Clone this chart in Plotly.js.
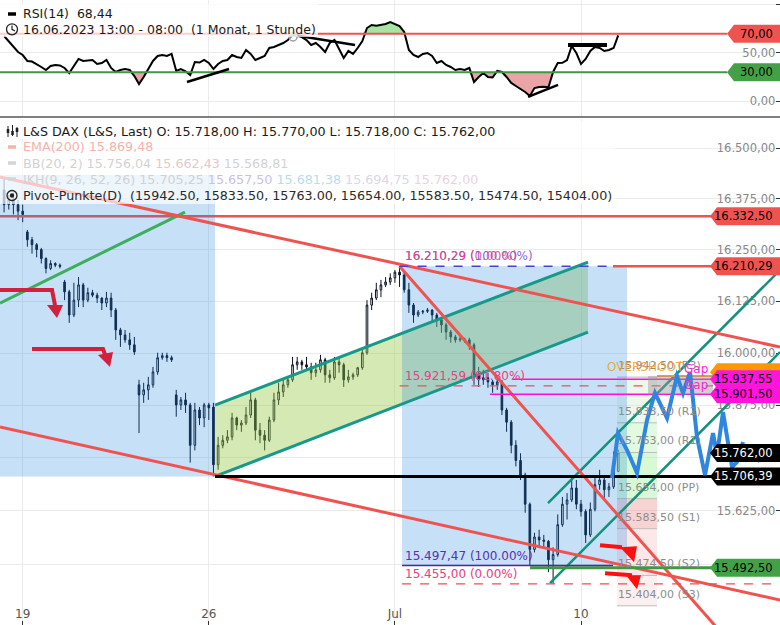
<!DOCTYPE html>
<html>
<head>
<meta charset="utf-8">
<script src="https://cdn.plot.ly/plotly-3.0.1.min.js"></script>
<style>
html,body{margin:0;padding:0;background:#ffffff;}
#chart{width:780px;height:625px;}
</style>
</head>
<body>
<div id="chart"></div>
<script>
// ---------------- data (hourly-ish bars, L&S DAX) ----------------
const open = [16397,16361,16373,16361,16345,16294,16275,16263,16251,16229,
 16205,16217,16213,16172,16148,16092,16128,16165,16128,16146,
 16140,16133,16121,16133,16104,16056,16044,16032,16020,15924,
 15900,15912,15924,15955,15989,15994,15989,15900,15876,15888,
 15876,15780,15864,15845,15876,15871,15734,15780,15792,15800,
 15845,15828,15833,15852,15888,15816,15804,15792,15840,15888,
 15907,15924,15936,15972,15979,15972,15967,15953,15960,15984,
 15948,15941,15979,15972,15936,15943,15948,15965,16001,16116,
 16133,16153,16165,16172,16182,16196,16189,16153,16116,16092,
 16099,16101,16104,16092,16080,16068,16051,16039,16032,16034,
 16032,16020,15948,15936,15941,15931,15924,15931,15864,15835,
 15780,15744,15710,15641,15535,15564,15557,15554,15511,15523,
 15593,15641,15651,15679,15641,15624,15569,15629,15687,15698,
 15675,15682,15718];
const high = [16426,16385,16390,16373,16361,16299,16282,16267,16255,16232,
 16225,16220,16217,16177,16153,16170,16184,16170,16158,16153,
 16146,16135,16148,16146,16109,16061,16056,16049,16039,15936,
 15929,15943,15967,16001,16001,16001,15994,15912,15895,15905,
 15881,15881,15871,15881,15881,15881,15800,15804,15816,15857,
 15848,15840,15871,15905,15893,15833,15816,15848,15905,15929,
 15936,15943,15991,15991,15984,15991,15977,15977,15996,15989,
 15960,15991,15991,15977,15960,15953,15967,16008,16128,16146,
 16170,16177,16184,16193,16201,16210.29,16198,16170,16121,16104,
 16104,16109,16106,16097,16085,16073,16056,16044,16039,16037,
 16037,16025,15967,15960,15953,15936,15943,15936,15869,15840,
 15792,15761,15715,15645,15574,15581,15569,15557,15540,15617,
 15658,15667,15703,15698,15651,15629,15645,15706,15722,15703,
 15691,15765,15770];
const low = [16342,16349,16337,16323,16318,16258,16241,16232,16217,16193,
 16201,16208,16205,16128,16073,16087,16111,16111,16123,16135,
 16121,16104,16111,16087,16032,16015,16025,16008,15996,15809,
 15881,15888,15917,15948,15984,15979,15979,15848,15864,15857,
 15739,15768,15828,15823,15840,15706.39,15722,15773,15785,15792,
 15816,15812,15828,15845,15792,15785,15768,15788,15835,15876,
 15895,15917,15931,15960,15960,15960,15936,15943,15953,15929,
 15929,15936,15953,15919,15929,15936,15943,15960,15996,16104,
 16128,16135,16160,16165,16170,16160,16146,16097,16073,16087,
 16094,16097,16073,16063,16049,16032,16025,16025,16027,16025,
 16008,15924,15919,15924,15917,15905,15912,15852,15812,15761,
 15730,15698,15621,15497.47,15528,15542,15540,15482,15455,15518,
 15588,15605,15646,15629,15612,15550,15564,15624,15675,15651,
 15658,15677,15718];
const close = [16361,16373,16361,16345,16337,16275,16263,16251,16229,16205,
 16217,16213,16210,16148,16092,16128,16165,16128,16146,16140,
 16133,16121,16133,16104,16056,16044,16032,16020,16003,15900,
 15912,15924,15955,15989,15994,15989,15984,15876,15888,15876,
 15780,15864,15845,15876,15869,15734,15780,15792,15800,15845,
 15828,15833,15852,15888,15816,15804,15792,15840,15888,15907,
 15924,15936,15972,15979,15972,15967,15953,15960,15984,15948,
 15941,15979,15972,15936,15943,15948,15965,16001,16116,16133,
 16153,16165,16172,16182,16196,16189,16153,16116,16092,16099,
 16101,16104,16092,16080,16068,16051,16039,16032,16034,16032,
 16020,15948,15936,15941,15931,15924,15931,15864,15835,15780,
 15744,15710,15641,15535,15564,15557,15554,15511,15523,15593,
 15641,15651,15679,15641,15624,15569,15629,15687,15698,15675,
 15682,15718,15762];
const rsi = [67.7,62.5,57.3,51.0,47.9,41.7,41.1,38.5,35.4,32.3,
 36.5,37.5,37.0,34.4,29.0,36.5,43.8,41.7,42.0,42.7,
 38.5,39.6,42.7,34.4,30.2,32.3,33.3,32.3,26.0,17.7,
 25.0,33.3,41.7,46.9,47.9,46.9,49.0,31.3,33.3,31.0,
 27.0,40.6,40.0,42.7,39.6,33.3,38.5,41.7,42.7,47.9,
 45.8,44.8,53.1,49.0,42.7,44.8,46.9,55.2,56.3,58.3,
 60.4,63.5,68.8,69.5,66.7,63.5,58.3,60.4,56.3,51.0,
 60.4,63.5,54.2,44.8,52.1,49.0,55.2,62.5,76.0,79.2,
 78.5,79.0,80.2,82.3,80.2,78.1,71.9,53.1,47.9,45.8,
 49.0,50.0,46.9,39.6,41.7,37.5,35.4,32.3,33.3,32.3,
 34.4,19.8,25.0,29.2,25.0,24.5,31.3,30.2,25.0,18.8,
 15.6,12.5,9.4,5.2,13.5,14.6,14.9,14.2,30.2,39.6,
 39.8,42.7,57.3,50.0,38.5,43.8,52.1,56.3,55.2,52.1,
 53.1,55.2,68.44];

const dayTickPos = [4, 44, 84, 124];
const dayTickText = ['19', '26', 'Jul', '10'];
const priceTicks = [15375, 15500, 15625, 15750, 15875, 16000, 16125, 16250, 16375, 16500];
const rsiTicks = [0, 50, 100];
const rsiBands = [70, 30];
const pivotValues = [15942.5, 15833.5, 15763.0, 15654.0, 15583.5, 15474.5, 15404.0];
const pivotNames = ['R3', 'R2', 'R1', 'PP', 'S1', 'S2', 'S3'];
const emaValue = [15869.48];
const bbValues = [15756.04, 15662.43, 15568.81];
const ikhValues = [15705.25, 15657.50, 15681.38, 15694.75, 15762.00];
const tagPrices = [16332.5, 16210.29, 15937.55, 15901.5, 15762.0, 15706.39, 15492.5];
const fibLevels = [16210.29, 15921.59, 15497.47, 15455.0];
const fibPercents = ['0.00%', '61.80%', '100.00%', '0.00%'];

// ---------------- drawings (bar index, price) ----------------
const blueBoxes = [[-1, 45.33, 15706.39, 16434], [85.53, 133.89, 15497.47, 16210.29]];
const channelX = [45.33, 125.5];
const channelLow = [15706.39, 16050.8];
const channelHigh = [15875.7, 16220.5];
const redTrends = [[-0.88, 16429.0, 166.77, 16014.7], [-0.88, 15823.3, 166.77, 15417.3], [85.0, 16210.29, 158.17, 15292.6]];
const greenTrend = [-0.88, 16120.9, 38.88, 16342.8];
const tealTrends = [[116.91, 15643.6, 166.77, 16201.0], [117.34, 15456.7, 166.77, 16002.6]];
const projX = [130.66, 131.95, 133.89, 136.04, 138.19, 139.9, 142.49, 144.63, 145.92, 147.43, 148.93, 150.65, 152.37, 153.23, 154.52, 156.46, 157.53, 158.82];
const projY = [15702.5, 15809.0, 15768.7, 15714.3, 15840.0, 15904.4, 15844.7, 15945.0, 15904.4, 15954.6, 15799.5, 15709.6, 15809.0, 15756.9, 15859.0, 15728.5, 15740.3, 15787.7];
const rsiTrends = [[39.31, 19.8, 48.34, 33.3, 2.5], [62.1, 68.75, 75.43, 58.3, 2.5], [112.61, 4.2, 119.06, 16.7, 2.5], [121.21, 58.3, 129.59, 58.3, 4]];

// ---------------- helpers ----------------
const de = (v) => { const s = v.toFixed(2).split('.'); return s[0].replace(/\B(?=(\d{3})+(?!\d))/g, '.') + ',' + s[1]; };
const L10 = Math.log10;
const px = (x) => x / 780;
const py = (y) => (625 - y) / 625;
const NB = '\u00a0';
const bars = open.map((v, k) => k);
const n = close.length - 1;

// ---------------- traces ----------------
const traces = [
  {type: 'candlestick', x: bars, open: open, high: high, low: low, close: close, xaxis: 'x', yaxis: 'y',
   increasing: {line: {color: '#0c1424', width: 1}, fillcolor: '#ffffff'},
   decreasing: {line: {color: '#0c1424', width: 1}, fillcolor: '#0c1424'},
   whiskerwidth: 0, hoverinfo: 'skip'},
  {type: 'scatter', x: bars, y: rsi.map(() => rsiBands[0]), xaxis: 'x', yaxis: 'y2', mode: 'lines', line: {width: 0}, hoverinfo: 'skip'},
  {type: 'scatter', x: bars, y: rsi.map(v => Math.max(v, rsiBands[0])), xaxis: 'x', yaxis: 'y2', mode: 'lines', line: {width: 0}, fill: 'tonexty', fillcolor: '#a7e3a1', hoverinfo: 'skip'},
  {type: 'scatter', x: bars, y: rsi.map(() => rsiBands[1]), xaxis: 'x', yaxis: 'y2', mode: 'lines', line: {width: 0}, hoverinfo: 'skip'},
  {type: 'scatter', x: bars, y: rsi.map(v => Math.min(v, rsiBands[1])), xaxis: 'x', yaxis: 'y2', mode: 'lines', line: {width: 0}, fill: 'tonexty', fillcolor: '#e9a5a5', hoverinfo: 'skip'},
  {type: 'scatter', x: bars, y: rsi, xaxis: 'x', yaxis: 'y2', mode: 'lines', line: {color: '#000000', width: 2}, hoverinfo: 'skip'}
];

// ---------------- shapes ----------------
const shapes = [];
const hline = (x0, x1, y, color, width, dash, yref) => shapes.push({type: 'line', xref: 'x', yref: yref || 'y', x0: x0, x1: x1, y0: y, y1: y, line: {color: color, width: width, dash: dash || 'solid'}, layer: 'above'});
const seg = (x0, y0, x1, y1, color, width, yref) => shapes.push({type: 'line', xref: 'x', yref: yref || 'y', x0: x0, x1: x1, y0: y0, y1: y1, line: {color: color, width: width}, layer: 'above'});
const poly = (pts, color, width, fill) => shapes.push({type: 'path', xref: 'x', yref: 'y', layer: 'above',
  path: pts.map((p, k) => (k ? 'L ' : 'M ') + p[0] + ',' + p[1]).join(' ') + (fill ? ' Z' : ''),
  line: {color: color, width: fill ? 0 : width}, fillcolor: fill ? color : 'rgba(0,0,0,0)'});

// pivot zones
const zoneCols = ['rgba(205,232,200,0.35)', 'rgba(190,245,185,0.45)', 'rgba(175,245,170,0.5)', 'rgba(235,150,150,0.42)', 'rgba(245,185,185,0.33)', 'rgba(245,195,195,0.26)'];
for (let k = 0; k < pivotValues.length - 1; k++) {
  shapes.push({type: 'rect', xref: 'x', yref: 'y', x0: 131.74, x1: 140.34, y0: pivotValues[k + 1], y1: pivotValues[k], fillcolor: zoneCols[k], line: {width: 0}, layer: 'above'});
}
pivotValues.forEach(v => hline(131.74, 140.34, v, '#bdbdbd', 1));

// horizontal red at 16332.5 (beneath blue box)
hline(-1, 152.37, tagPrices[0], '#ef5350', 2.5);

// green channel
shapes.push({type: 'path', xref: 'x', yref: 'y', layer: 'above',
  path: 'M ' + channelX[0] + ',' + channelLow[0] + ' L ' + channelX[1] + ',' + channelLow[1] + ' L ' + channelX[1] + ',' + channelHigh[1] + ' L ' + channelX[0] + ',' + channelHigh[0] + ' Z',
  fillcolor: 'rgba(150,200,70,0.4)', line: {width: 0}});

// blue boxes
blueBoxes.forEach(b => shapes.push({type: 'rect', xref: 'x', yref: 'y', x0: b[0], x1: b[1], y0: b[2], y1: b[3], fillcolor: 'rgba(27,131,227,0.25)', line: {width: 0}, layer: 'above'}));

// channel lines
seg(channelX[0], channelHigh[0], channelX[1], channelHigh[1], '#17998a', 3);
seg(channelX[0], channelLow[0], channelX[1], channelLow[1], '#17998a', 3);
seg(greenTrend[0], greenTrend[1], greenTrend[2], greenTrend[3], '#3fae5c', 3);
tealTrends.forEach(t => seg(t[0], t[1], t[2], t[3], '#12927a', 2.5));
redTrends.forEach(t => seg(t[0], t[1], t[2], t[3], '#ef5350', 3));

// levels
hline(130.88, 152.37, tagPrices[1], '#ef5350', 2.5);
hline(45.33, 152.37, tagPrices[5], '#000000', 3);
hline(113.04, 152.37, tagPrices[6], '#3d9a40', 3);
hline(85.0, 130.88, fibLevels[0], '#4b3fd6', 1.5, 'dash');
hline(85.0, 152.37, fibLevels[1], '#e8505a', 1.2, 'dash');
hline(85.53, 130.88, fibLevels[2], '#4b2aa0', 1.5);
hline(85.53, 166.77, fibLevels[3], '#e8505a', 1.2, 'dash');
hline(109.17, 152.37, tagPrices[2], '#ff10d8', 1.5);
hline(104.44, 152.37, tagPrices[3], '#ff10d8', 1.5);
hline(140.34, 152.37, 15945, '#ff9a1a', 2);
shapes.push({type: 'rect', xref: 'x', yref: 'y', x0: 138.4, x1: 152.37, y0: tagPrices[3], y1: 15945, fillcolor: 'rgba(150,150,150,0.45)', line: {width: 0}, layer: 'above'});

// projection zigzag
poly(projX.map((x, k) => [x, projY[k]]), '#2e86de', 4, false);

// arrows
poly([[-0.88, 16152.4], [10.30, 16152.4], [10.94, 16116.0]], '#d3213d', 4, false);
poly([[9.22, 16116.0], [12.66, 16116.0], [11.37, 16084.6]], '#d3213d', 0, true);
poly([[6.0, 16009.9], [21.26, 16009.9], [21.90, 15990.6]], '#d3213d', 4, false);
poly([[20.18, 15995.4], [23.41, 16002.6], [22.76, 15966.6]], '#d3213d', 0, true);
poly([[128.08, 15544.9], [132.81, 15540.2]], '#ff1010', 4, false);
poly([[132.38, 15540.2], [136.04, 15542.6], [135.4, 15505.2]], '#ff1010', 0, true);
poly([[129.16, 15479.6], [134.96, 15475.0]], '#ff1010', 4, false);
poly([[133.67, 15475.0], [136.9, 15475.0], [136.04, 15442.4]], '#ff1010', 0, true);

// RSI panel lines
hline(-1, 155.38, rsiBands[0], '#ef5350', 2, 'solid', 'y2');
hline(-1, 155.38, rsiBands[1], '#3d9a40', 2, 'solid', 'y2');
rsiTrends.forEach(t => seg(t[0], t[1], t[2], t[3], '#000000', t[4], 'y2'));
shapes.push({type: 'circle', xref: 'x', yref: 'y2', xsizemode: 'pixel', ysizemode: 'pixel', xanchor: 62.1, yanchor: 66.7, x0: -4, x1: 4, y0: -4, y1: 4, line: {color: '#9e9e9e', width: 1.5}, fillcolor: 'rgba(255,255,255,0.5)', layer: 'above'});

// panel separator
shapes.push({type: 'line', xref: 'paper', yref: 'paper', x0: 0, x1: 1, y0: py(117), y1: py(117), line: {color: '#000', width: 1}});

// legend boxes
shapes.push({type: 'rect', xref: 'paper', yref: 'paper', x0: 0, x1: px(615), y0: py(204), y1: py(121), fillcolor: 'rgba(255,255,255,0.68)', line: {width: 0}, layer: 'above'});
shapes.push({type: 'rect', xref: 'paper', yref: 'paper', x0: 0, x1: px(318), y0: py(37), y1: py(4), fillcolor: 'rgba(255,255,255,0.72)', line: {width: 0}, layer: 'above'});

// legend icons
const dash = (y, color) => shapes.push({type: 'line', xref: 'paper', yref: 'paper', x0: px(8), x1: px(16), y0: py(y), y1: py(y), line: {color: color, width: 3.5}});
dash(14, '#000000'); dash(147, '#f6b3ab'); dash(163, '#d5d5d5'); dash(179, '#d5d5d5');
[[8, 126, 137, 129, 133], [12.5, 125, 136, 131, 135], [17, 127, 137, 128, 132]].forEach(c => {
  shapes.push({type: 'line', xref: 'paper', yref: 'paper', x0: px(c[0]), x1: px(c[0]), y0: py(c[1]), y1: py(c[2]), line: {color: '#222', width: 1}});
  shapes.push({type: 'rect', xref: 'paper', yref: 'paper', x0: px(c[0] - 1.3), x1: px(c[0] + 1.3), y0: py(c[3]), y1: py(c[4]), fillcolor: '#222', line: {width: 0}});
});
shapes.push({type: 'circle', xref: 'paper', yref: 'paper', x0: px(6.5), x1: px(17.5), y0: py(34.8), y1: py(23.8), line: {color: '#222', width: 1.3}});
shapes.push({type: 'path', xref: 'paper', yref: 'paper', path: 'M ' + px(12) + ',' + py(25.5) + ' L ' + px(12) + ',' + py(29.3) + ' L ' + px(15) + ',' + py(31), line: {color: '#222', width: 1.2}});
shapes.push({type: 'circle', xref: 'paper', yref: 'paper', x0: px(7), x1: px(17), y0: py(200.5), y1: py(190.5), line: {color: '#222', width: 1.3}, layer: 'above'});
shapes.push({type: 'circle', xref: 'paper', yref: 'paper', x0: px(9.8), x1: px(14.2), y0: py(197.7), y1: py(193.3), fillcolor: '#222', line: {width: 0}, layer: 'above'});

// price tags
const tag = (yref, price, fill, w) => shapes.push({type: 'path', xref: 'paper', yref: yref, xsizemode: 'pixel', ysizemode: 'pixel', xanchor: 1, yanchor: price,
  path: 'M -' + w + ',0 L -' + (w - 7) + ',9 L 0,9 L 0,-9 L -' + (w - 7) + ',-9 Z', fillcolor: fill, line: {width: 0}, layer: 'above'});
tag('y', 15954, '#ff9800', 70);
const tagFill = ['#ef5350', '#ef5350', '#ff14dc', '#ff14dc', '#000000', '#000000', '#43a047'];
const tagFont = ['#000', '#000', '#000', '#000', '#fff', '#fff', '#000'];
tagPrices.forEach((p, k) => tag('y', p, tagFill[k], 70));
tag('y2', rsiBands[0], '#ef5350', 53);
tag('y2', rsiBands[1], '#43a047', 53);

// ---------------- annotations ----------------
const ann = [];
const txt = (o) => ann.push(Object.assign({showarrow: false, xanchor: 'left', yanchor: 'middle', font: {size: 12.5, color: '#1a1a1a', family: 'DejaVu Sans'}}, o));
tagPrices.forEach((p, k) => txt({xref: 'paper', x: 1, xanchor: 'right', xshift: -5, yref: 'y', y: L10(p), text: de(p), font: {size: 11.5, color: tagFont[k], family: 'DejaVu Sans'}}));
rsiBands.forEach(v => txt({xref: 'paper', x: 1, xanchor: 'right', xshift: -5, yref: 'y2', y: v, text: de(v), font: {size: 11.5, color: '#000', family: 'DejaVu Sans'}}));

pivotValues.forEach((v, k) => txt({xref: 'x', x: 131.6, yref: 'y', y: L10(v), yanchor: 'bottom', yshift: 3, text: de(v) + ' (' + pivotNames[k] + ')', font: {size: 11, color: '#8c8c8c', family: 'DejaVu Sans'}}));

const fibCols = ['#e8417e', '#e8417e', '#5b2fb0', '#e8417e'];
txt({xref: 'x', x: 85.75, yref: 'y', y: L10(fibLevels[0]), yanchor: 'bottom', yshift: 1, text: de(fibLevels[0]) + ' (100.00%)', font: {size: 12, color: 'rgba(110,70,210,0.85)', family: 'DejaVu Sans'}});
fibLevels.forEach((v, k) => txt({xref: 'x', x: 85.75, yref: 'y', y: L10(v), yanchor: 'bottom', yshift: 1, text: de(v) + ' (' + fibPercents[k] + ')', font: {size: 12, color: k === 0 ? 'rgba(232,65,126,0.85)' : fibCols[k], family: 'DejaVu Sans'}}));

txt({xref: 'x', x: 129.2, yref: 'y', y: L10(15966), text: 'OVERSHOOT', font: {size: 12, color: 'rgba(240,160,50,0.9)', family: 'DejaVu Sans'}});
txt({xref: 'x', x: 145.7, yref: 'y', y: L10(15962), text: 'Gap', font: {size: 12, color: '#ff1fd0', family: 'DejaVu Sans'}});
txt({xref: 'x', x: 145.7, yref: 'y', y: L10(15923.5), text: 'Gap', font: {size: 12, color: '#ff1fd0', family: 'DejaVu Sans'}});

// header legends
txt({xref: 'paper', x: px(21), yref: 'paper', y: py(14), text: 'RSI(14)' + NB + NB + de(rsi[n])});
txt({xref: 'paper', x: px(21), yref: 'paper', y: py(29.5), text: '16.06.2023 13:00 - 08:00' + NB + NB + '(1 Monat, 1 Stunde)'});
txt({xref: 'paper', x: px(21), yref: 'paper', y: py(131.5), text: 'L&amp;S DAX (L&amp;S, Last) O: ' + de(open[n]) + ' H: ' + de(high[n]) + ' L: ' + de(low[n]) + ' C: ' + de(close[n]), font: {size: 12.7, color: '#1a1a1a', family: 'DejaVu Sans'}});
txt({xref: 'paper', x: px(21), yref: 'paper', y: py(147), text: 'EMA(200) ' + de(emaValue[0]), font: {size: 12.7, color: '#f5b2aa', family: 'DejaVu Sans'}});
txt({xref: 'paper', x: px(21), yref: 'paper', y: py(163), text: 'BB(20, 2) ' + de(bbValues[0]) + ' <span style="color:#e6c8c8">' + de(bbValues[1]) + '</span> ' + de(bbValues[2]), font: {size: 12.7, color: '#d2d2d2', family: 'DejaVu Sans'}});
txt({xref: 'paper', x: px(21), yref: 'paper', y: py(179), text: 'IKH(9, 26, 52, 26) ' + de(ikhValues[0]) + ' <span style="color:#cbbdf0">' + de(ikhValues[1]) + '</span> <span style="color:#b8dcec">' + de(ikhValues[2]) + '</span> <span style="color:#dcd6e8">' + de(ikhValues[3]) + '</span> <span style="color:#ecd2de">' + de(ikhValues[4]) + '</span>', font: {size: 12.7, color: '#d2d2d2', family: 'DejaVu Sans'}});
txt({xref: 'paper', x: px(21), yref: 'paper', y: py(195.5), text: 'Pivot-Punkte(D)' + NB + NB + '(' + pivotValues.map(v => v.toFixed(2)).join(', ') + ')', font: {size: 12.7, color: '#2a2a2a', family: 'DejaVu Sans'}});

// ---------------- layout ----------------
const axisFont = {family: 'DejaVu Sans', size: 11.5, color: '#888888'};
const layout = {
  width: 780, height: 625,
  margin: {l: 0, r: 0, t: 0, b: 0},
  paper_bgcolor: '#ffffff', plot_bgcolor: '#ffffff',
  font: {family: 'DejaVu Sans', size: 12, color: '#222'},
  separators: ',.',
  showlegend: false,
  boxgap: 0.5,
  xaxis: {type: 'linear', range: [-0.88, 166.77], anchor: 'y', tickmode: 'array', tickvals: dayTickPos, ticktext: dayTickText,
    ticks: 'inside', ticklen: 4, tickcolor: '#333', ticklabelposition: 'inside', tickfont: {family: 'DejaVu Sans', size: 12, color: '#555'},
    showgrid: true, gridcolor: '#ebebeb', gridwidth: 1, zeroline: false, showline: false, rangeslider: {visible: false}, fixedrange: true},
  yaxis: {type: 'log', domain: [0, py(119)], range: [4.18638, 4.21940], side: 'right', anchor: 'x', tickmode: 'array', tickvals: priceTicks, ticktext: priceTicks.map(de),
    ticks: 'inside', ticklen: 4, tickcolor: '#333', ticklabelposition: 'inside', tickfont: axisFont,
    showgrid: true, gridcolor: '#ebebeb', zeroline: false, showline: false, fixedrange: true},
  yaxis2: {type: 'linear', domain: [py(117), 1], range: [-16.67, 105.2], side: 'right', anchor: 'x', tickmode: 'array', tickvals: rsiTicks, ticktext: rsiTicks.map(de),
    ticks: 'inside', ticklen: 4, tickcolor: '#333', ticklabelposition: 'inside', tickfont: axisFont,
    showgrid: true, gridcolor: '#ebebeb', zeroline: false, showline: false, fixedrange: true},
  shapes: shapes,
  annotations: ann
};

Plotly.newPlot('chart', traces, layout, {displayModeBar: false, staticPlot: true});
</script>
</body>
</html>
